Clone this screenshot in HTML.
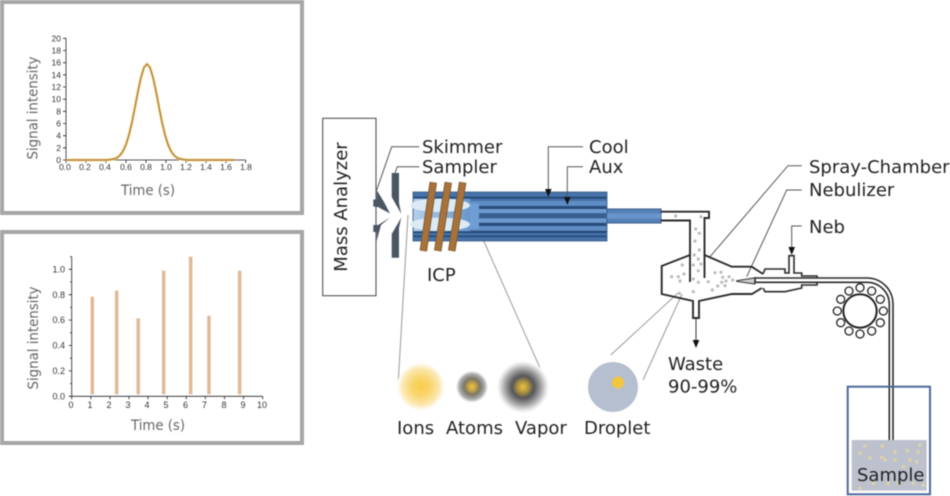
<!DOCTYPE html>
<html lang="en">
<head>
<meta charset="utf-8">
<title>ICP-MS diagram</title>
<style>
html,body{margin:0;padding:0;background:#fff;width:950px;height:496px;overflow:hidden}
svg{display:block;filter:blur(.45px)}
.p{font-family:"DejaVu Sans",sans-serif;fill:#666}
.t{font-family:"Liberation Sans",sans-serif;font-size:8.5px;fill:#333}
.u{font-family:"Liberation Sans",sans-serif;font-size:9px;fill:#333}
.d{font-family:"DejaVu Sans",sans-serif;font-size:18px;fill:#222}
</style>
</head>
<body>
<svg width="950" height="496" viewBox="0 0 950 496" xmlns="http://www.w3.org/2000/svg">
<defs>
<radialGradient id="ions"><stop offset="0" stop-color="#f8cd4e"/><stop offset=".35" stop-color="#f9d468"/><stop offset=".75" stop-color="#fbe7ae"/><stop offset="1" stop-color="#fff"/></radialGradient>
<radialGradient id="atoms"><stop offset="0" stop-color="#f2c63e"/><stop offset=".22" stop-color="#c9a545"/><stop offset=".5" stop-color="#7c7866"/><stop offset=".78" stop-color="#a8a8a8"/><stop offset="1" stop-color="#fff"/></radialGradient>
<radialGradient id="vapor"><stop offset="0" stop-color="#ecc03c"/><stop offset=".2" stop-color="#b4983f"/><stop offset=".42" stop-color="#55555a"/><stop offset=".66" stop-color="#999"/><stop offset=".88" stop-color="#e2e2e2"/><stop offset="1" stop-color="#fff"/></radialGradient>
<linearGradient id="cav" x1="0" x2="1" y1="0" y2="0"><stop offset="0" stop-color="#b4d0ea"/><stop offset="1" stop-color="#6896cc"/></linearGradient>
</defs>

<!-- Panel 1 -->
<rect x="2" y="2" width="300" height="211" fill="#fff" stroke="#a6a6a6" stroke-width="4"/>
<path d="M66 38.3V160H245.7" fill="none" stroke="#222" stroke-width=".8"/>
<path d="M63 160h3M63 147.8h3M63 135.7h3M63 123.5h3M63 111.3h3M63 99.2h3M63 87h3M63 74.8h3M63 62.7h3M63 50.5h3M63 38.3h3M66 160v3M86 160v3M106 160v3M126 160v3M146 160v3M166 160v3M186 160v3M206 160v3M226 160v3M245.7 160v3" stroke="#222" stroke-width=".8" fill="none"/>
<polyline fill="none" stroke="#f6d99a" stroke-width="3" points="66,160 107,160 111,159.5 114,158.9 117,157.7 120,155.3 123,151.1 126,144.5 129,134.8 132,122.1 135,107 138,91.3 141,77.3 144,67.5 147,64 150,67.5 153,77.3 156,91.3 159,107 162,122.1 165,134.8 168,144.5 171,151.1 174,155.3 177,157.7 180,158.9 183,159.5 187,160 234,160"/>
<polyline fill="none" stroke="#a9782f" stroke-width="1.2" points="66,160 107,160 111,159.5 114,158.9 117,157.7 120,155.3 123,151.1 126,144.5 129,134.8 132,122.1 135,107 138,91.3 141,77.3 144,67.5 147,64 150,67.5 153,77.3 156,91.3 159,107 162,122.1 165,134.8 168,144.5 171,151.1 174,155.3 177,157.7 180,158.9 183,159.5 187,160 234,160"/>
<g class="t" text-anchor="end">
<text x="61" y="163">0</text><text x="61" y="150.8">2</text><text x="61" y="138.7">4</text><text x="61" y="126.5">6</text><text x="61" y="114.3">8</text><text x="61" y="102.2">10</text><text x="61" y="90">12</text><text x="61" y="77.8">14</text><text x="61" y="65.7">16</text><text x="61" y="53.5">18</text><text x="61" y="41.3">20</text>
</g>
<g class="t" text-anchor="middle">
<text x="65" y="170">0.0</text><text x="85" y="170">0.2</text><text x="105" y="170">0.4</text><text x="126" y="170">0.6</text><text x="146" y="170">0.8</text><text x="166" y="170">1.0</text><text x="186" y="170">1.2</text><text x="206" y="170">1.4</text><text x="226" y="170">1.6</text><text x="246" y="170">1.8</text>
</g>
<text class="p" font-size="14.5" text-anchor="middle" x="148" y="195" textLength="54" lengthAdjust="spacingAndGlyphs">Time (s)</text>
<text class="p" font-size="14.5" text-anchor="middle" transform="translate(37.5 108) rotate(-90)" textLength="103" lengthAdjust="spacingAndGlyphs">Signal intensity</text>

<!-- Panel 2 -->
<rect x="2" y="232" width="300" height="211" fill="#fff" stroke="#a6a6a6" stroke-width="4"/>
<g fill="#e0b997">
<rect x="90.6" y="296.7" width="3.5" height="97.6"/>
<rect x="114.9" y="290.7" width="3.5" height="103.6"/>
<rect x="136.5" y="318.3" width="3.5" height="76"/>
<rect x="161.9" y="270.7" width="3.5" height="123.6"/>
<rect x="188.9" y="256.7" width="3.5" height="137.6"/>
<rect x="207.2" y="315.7" width="3.5" height="78.6"/>
<rect x="237.9" y="270.7" width="3.5" height="123.6"/>
</g>
<path d="M71.7 256.7V396.3H262.7" fill="none" stroke="#222" stroke-width=".8"/>
<path d="M68.7 396.3h3M68.7 370.9h3M68.7 345.5h3M68.7 320.1h3M68.7 294.7h3M68.7 269.3h3M70 383.6h1.7M70 358.2h1.7M70 332.8h1.7M70 307.4h1.7M70 282h1.7M70 256.7h1.7M71.7 396.3v3M90.8 396.3v3M109.9 396.3v3M129 396.3v3M148.1 396.3v3M167.2 396.3v3M186.3 396.3v3M205.4 396.3v3M224.5 396.3v3M243.6 396.3v3M262.7 396.3v3" fill="none" stroke="#222" stroke-width=".8"/>
<g class="u" text-anchor="end">
<text x="65" y="399.5">0.0</text><text x="65" y="374">0.2</text><text x="65" y="348.6">0.4</text><text x="65" y="323.2">0.6</text><text x="65" y="297.8">0.8</text><text x="65" y="272.4">1.0</text>
</g>
<g class="u" text-anchor="middle">
<text x="71" y="408">0</text><text x="90" y="408">1</text><text x="109" y="408">2</text><text x="128" y="408">3</text><text x="147" y="408">4</text><text x="166" y="408">5</text><text x="185.5" y="408">6</text><text x="204.5" y="408">7</text><text x="224" y="408">8</text><text x="243" y="408">9</text><text x="262" y="408">10</text>
</g>
<text class="p" font-size="14.5" text-anchor="middle" x="158" y="430" textLength="54" lengthAdjust="spacingAndGlyphs">Time (s)</text>
<text class="p" font-size="14.5" text-anchor="middle" transform="translate(38 338) rotate(-90)" textLength="103" lengthAdjust="spacingAndGlyphs">Signal intensity</text>

<!-- Mass analyzer -->
<rect x="322.7" y="118.3" width="53.3" height="177.4" fill="#fff" stroke="#444" stroke-width="1"/>
<text class="d" text-anchor="middle" transform="translate(347 207) rotate(-90)">Mass Analyzer</text>

<!-- Leads gray -->
<g fill="none" stroke="#555" stroke-width="1">
<path d="M419.3 146.7H391.7L376.7 190"/>
<path d="M419.3 166.7H397.3L395 173"/>
<path d="M801.7 165.7H788L710 256.7"/>
<path d="M801.7 190H786.7L746.7 276.7"/>
</g>
<g fill="none" stroke="#999" stroke-width="1">
<path d="M408 215L398 386"/>
<path d="M473 216.7L548 386"/>
<path d="M678 293L610.7 355"/>
<path d="M682 294L643 380"/>
</g>

<!-- Cones -->
<g fill="#4b5663">
<polygon points="391.7,173 399,173 399,203 401.3,214 391.7,197"/>
<polygon points="401.3,217.5 399,228 399,257.7 391.7,257.7 391.7,234"/>
<polygon points="376.7,190 384,202 390,213.5 378,207 376.7,207 373.3,206.5 373.3,199.5 376.7,199.5"/>
<polygon points="390,217.5 378,225 373.3,225 373.3,232 376.7,232 376.7,241 381,225"/>
</g>

<!-- Torch -->
<rect x="413" y="192" width="194" height="49" fill="#4673aa" stroke="#3a5a85" stroke-width=".8"/>
<rect x="413.5" y="196.7" width="193" height="2" fill="#264a78"/>
<rect x="413.5" y="231" width="193" height="2" fill="#264a78"/>
<rect x="413.5" y="235.5" width="193" height="1.6" fill="#264a78"/>
<rect x="413.5" y="198.7" width="57" height="32.5" fill="url(#cav)"/>
<rect x="470" y="201" width="136.5" height="5" fill="#5e8cc3"/>
<rect x="470" y="206" width="136.5" height="17" fill="#284d7d"/>
<rect x="470" y="223" width="136.5" height="3" fill="#284d7d"/>
<rect x="470" y="226" width="136.5" height="4.500" fill="#5e8cc3"/>
<rect x="470" y="203" width="9" height="26" fill="#6f9ed4"/>
<ellipse cx="440" cy="205.3" rx="30" ry="6.7" fill="#dceaf5"/>
<ellipse cx="440" cy="224.3" rx="30" ry="6.7" fill="#dceaf5"/>
<rect x="479" y="209" width="128" height="4.3" fill="#6e9ad0"/>
<rect x="479" y="213.3" width="128" height="5" fill="#37608f"/>
<rect x="479" y="218.3" width="128" height="4.5" fill="#6e9ad0"/>
<rect x="607" y="209" width="54" height="14" fill="#5580b8" stroke="#3a5a85" stroke-width="1"/>
<rect x="607" y="213.5" width="54" height="5" fill="#6a94cb"/>

<!-- Coils -->
<g stroke="#7d5f38" stroke-width="7.5">
<line x1="433.3" y1="182.3" x2="423.3" y2="251"/>
<line x1="448.3" y1="182.3" x2="437.7" y2="251"/>
<line x1="462.7" y1="182.3" x2="451.7" y2="251"/>
</g>
<g stroke="#a9723a" stroke-width="5.5">
<line x1="433.3" y1="183" x2="423.3" y2="250.5"/>
<line x1="448.3" y1="183" x2="437.7" y2="250.5"/>
<line x1="462.7" y1="183" x2="451.7" y2="250.5"/>
</g>

<!-- Cool / Aux arrows -->
<g fill="none" stroke="#555" stroke-width="1">
<path d="M583 146.7H548.3V190"/>
<path d="M583 166.7H567.3V198"/>
</g>
<polygon points="545,189 551.6,189 548.3,197" fill="#111"/>
<polygon points="564,197 570.6,197 567.3,205" fill="#111"/>

<!-- Spray chamber -->
<g fill="none" stroke="#2a2a2a" stroke-width="1.9" stroke-linejoin="miter">
<path d="M661 211.7H709V218H704.5V278"/>
<path d="M661 220.5H690V282"/>
<path d="M690 255L661.7 266V294L693 301V318H699V301L732 294H752L761.7 288"/>
<path d="M704.5 255L731.7 266.7H751.7L763 274"/>
</g>
<g fill="#bbb">
<circle cx="675.7" cy="216" r="1.6"/><circle cx="701" cy="216.7" r="1.6"/><circle cx="695.7" cy="229" r="1.6"/><circle cx="699.3" cy="233.3" r="1.6"/><circle cx="695" cy="241" r="1.6"/><circle cx="699.3" cy="250" r="1.6"/><circle cx="694.3" cy="255" r="1.6"/><circle cx="698.3" cy="259" r="1.6"/><circle cx="693.3" cy="265" r="1.6"/><circle cx="701" cy="264" r="1.6"/><circle cx="682.3" cy="265" r="1.6"/><circle cx="698.3" cy="270.7" r="1.6"/><circle cx="684" cy="274" r="1.6"/><circle cx="671.7" cy="276.7" r="1.6"/><circle cx="678.3" cy="276.7" r="1.6"/><circle cx="680" cy="281" r="1.6"/><circle cx="693.3" cy="279" r="1.6"/><circle cx="698.3" cy="282.3" r="1.6"/><circle cx="693.3" cy="291.7" r="1.6"/><circle cx="679.3" cy="293.3" r="1.6"/><circle cx="708.3" cy="281.7" r="1.6"/><circle cx="715" cy="272.7" r="1.6"/><circle cx="721" cy="272.3" r="1.6"/><circle cx="722.7" cy="277.3" r="1.6"/><circle cx="729" cy="276.7" r="1.6"/><circle cx="721.7" cy="282.3" r="1.6"/><circle cx="726" cy="281" r="1.6"/><circle cx="732.7" cy="280" r="1.6"/><circle cx="717.7" cy="286" r="1.6"/><circle cx="712.3" cy="290" r="1.6"/><circle cx="725" cy="285.7" r="1.6"/>
</g>
<path d="M696 318V342" stroke="#333" stroke-width="1" fill="none"/>
<polygon points="692.7,340 699.3,340 696,348" fill="#111"/>

<!-- Nebulizer -->
<path d="M763 274L765 269H785V273H789V255.7H794V273H801.7V276H817V285H801.7V288L785 291.7H765L763 288" fill="#fff" stroke="#2a2a2a" stroke-width="1.6"/>
<path d="M736.7 280.7L755 277.7V284L736.7 281.5Z" fill="#ccc" stroke="#333" stroke-width="1"/>
<path d="M755 278H867A26 26 0 0 1 893 304V465H889.3V304A22 22 0 0 0 867 282.3H755Z" fill="#fff" stroke="#2a2a2a" stroke-width="1.6"/>
<path d="M801.7 226H791.7V248" fill="none" stroke="#555" stroke-width="1"/>
<polygon points="788.4,247 795,247 791.7,255" fill="#111"/>

<!-- Coil -->
<circle cx="860" cy="311" r="16.7" fill="#fff" stroke="#222" stroke-width="2"/>
<g fill="#fff" stroke="#222" stroke-width="1.3">
<circle cx="860" cy="287.7" r="4"/><circle cx="871.7" cy="291" r="4"/><circle cx="880.3" cy="299.3" r="4"/><circle cx="883.3" cy="311" r="4"/><circle cx="880.3" cy="322.7" r="4"/><circle cx="871.7" cy="331" r="4"/><circle cx="860" cy="334" r="4"/><circle cx="849" cy="331" r="4"/><circle cx="840.7" cy="322.7" r="4"/><circle cx="837.3" cy="311" r="4"/><circle cx="840.7" cy="299.3" r="4"/><circle cx="849" cy="291" r="4"/>
</g>

<!-- Sample -->
<rect x="851.7" y="440" width="75" height="50.7" fill="#bcc1cd"/>
<g fill="#dcd2a8">
<circle cx="865" cy="446" r="1.8"/><circle cx="882.3" cy="445.7" r="1.8"/><circle cx="860" cy="453.3" r="1.8"/><circle cx="870" cy="457.7" r="1.8"/><circle cx="881.7" cy="457.3" r="1.8"/><circle cx="885" cy="460" r="1.8"/><circle cx="895" cy="451.7" r="1.8"/><circle cx="907.3" cy="450.7" r="1.8"/><circle cx="918.3" cy="451.7" r="1.8"/><circle cx="920" cy="445" r="1.8"/><circle cx="910" cy="460" r="1.8"/><circle cx="916.7" cy="461.7" r="1.8"/><circle cx="895" cy="460" r="1.8"/><circle cx="903.3" cy="466.7" r="1.8"/><circle cx="860" cy="488.3" r="1.8"/><circle cx="873.3" cy="483.3" r="1.8"/><circle cx="888.3" cy="483.3" r="1.8"/><circle cx="898.3" cy="483.3" r="1.8"/><circle cx="913.3" cy="483.3" r="1.8"/><circle cx="923.3" cy="485" r="1.8"/>
</g>
<rect x="847.7" y="386.7" width="82.3" height="107.6" fill="none" stroke="#4a6a99" stroke-width="2"/>
<text class="d" x="857" y="481">Sample</text>

<!-- Species -->
<circle cx="421" cy="386.7" r="24" fill="url(#ions)"/>
<circle cx="472" cy="386.7" r="16" fill="url(#atoms)"/>
<circle cx="523" cy="387" r="26" fill="url(#vapor)"/>
<circle cx="613" cy="387" r="25" fill="#b5bfd0"/>
<circle cx="618" cy="382.5" r="6" fill="#f3c63f"/>

<!-- Labels -->
<text class="d" x="422" y="153">Skimmer</text>
<text class="d" x="422" y="173">Sampler</text>
<text class="d" x="589" y="153">Cool</text>
<text class="d" x="589" y="173">Aux</text>
<text class="d" x="809" y="173">Spray-Chamber</text>
<text class="d" x="809" y="196">Nebulizer</text>
<text class="d" x="809" y="233">Neb</text>
<text class="d" x="427" y="281">ICP</text>
<text class="d" x="668" y="370">Waste</text>
<text class="d" x="668" y="392.7">90-99%</text>
<text class="d" x="397" y="434">Ions</text>
<text class="d" x="446" y="434">Atoms</text>
<text class="d" x="515" y="434">Vapor</text>
<text class="d" x="584" y="434">Droplet</text>
</svg>
</body>
</html>
